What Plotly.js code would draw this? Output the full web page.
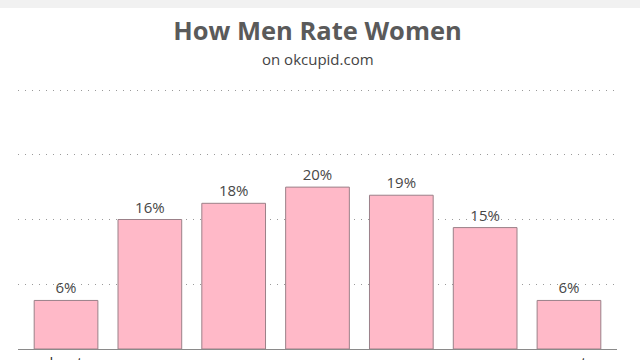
<!DOCTYPE html>
<html>
<head>
<meta charset="utf-8">
<script src="https://cdn.plot.ly/plotly-3.0.1.min.js"></script>
<style>
html,body{margin:0;padding:0;background:#fff;}
#wrap{position:relative;width:640px;height:360px;overflow:hidden;}
#strip{position:absolute;left:0;top:0;width:640px;height:8px;background:#f1f1f1;z-index:5;}
#chart{width:640px;height:360px;}
</style>
</head>
<body>
<div id="wrap"><div id="strip"></div><div id="chart"></div></div>
<script>
var categories = ['1', '2', '3', '4', '5', '6', '7'];
var tickLabels = ['least', '', '', '', '', '', 'most'];
var percentages = [6, 16, 18, 20, 19, 15, 6];
var gridValues = [8, 16, 24, 32];

var trace = {
  type: 'bar',
  x: categories,
  y: percentages,
  text: percentages.map(function (v) { return v + '%'; }),
  textposition: 'outside',
  textfont: {family: '"Open Sans", sans-serif', size: 15, color: '#474747'},
  cliponaxis: false,
  marker: {color: '#ffb9c8', line: {color: '#9b8088', width: 1}},
  width: 0.76,
  hoverinfo: 'none'
};

var layout = {
  width: 640,
  height: 360,
  margin: {l: 18, r: 23, t: 88, b: 11},
  paper_bgcolor: '#ffffff',
  plot_bgcolor: '#ffffff',
  showlegend: false,
  title: {
    text: 'How Men Rate Women',
    font: {family: '"Open Sans", sans-serif', size: 25.5, color: '#5a5a5a', weight: 'bold'},
    x: 0.5, xanchor: 'center', xref: 'paper',
    y: 1 - 31 / 360, yanchor: 'middle', yref: 'container'
  },
  annotations: [{
    text: 'on okcupid.com',
    xref: 'paper', yref: 'paper',
    x: 0.5, y: (349 - 59) / 261, xanchor: 'center', yanchor: 'middle',
    showarrow: false,
    font: {family: '"Open Sans", sans-serif', size: 15, color: '#444444'}
  }],
  xaxis: {
    type: 'category',
    range: [-0.573, 6.573],
    tickvals: categories,
    ticktext: tickLabels,
    ticks: '',
    showgrid: false,
    showline: true,
    linecolor: '#8a8a8a',
    linewidth: 1,
    zeroline: false,
    tickfont: {family: '"Open Sans", sans-serif', size: 15, color: '#333333'},
    fixedrange: true
  },
  yaxis: {
    range: [0, 32.247],
    tickvals: gridValues,
    showticklabels: false,
    ticks: '',
    showgrid: true,
    gridcolor: '#9a9a9a',
    gridwidth: 1,
    griddash: '1px,6px',
    zeroline: false,
    showline: false,
    fixedrange: true
  }
};

Plotly.newPlot('chart', [trace], layout, {displayModeBar: false, staticPlot: true});
</script>
</body>
</html>
